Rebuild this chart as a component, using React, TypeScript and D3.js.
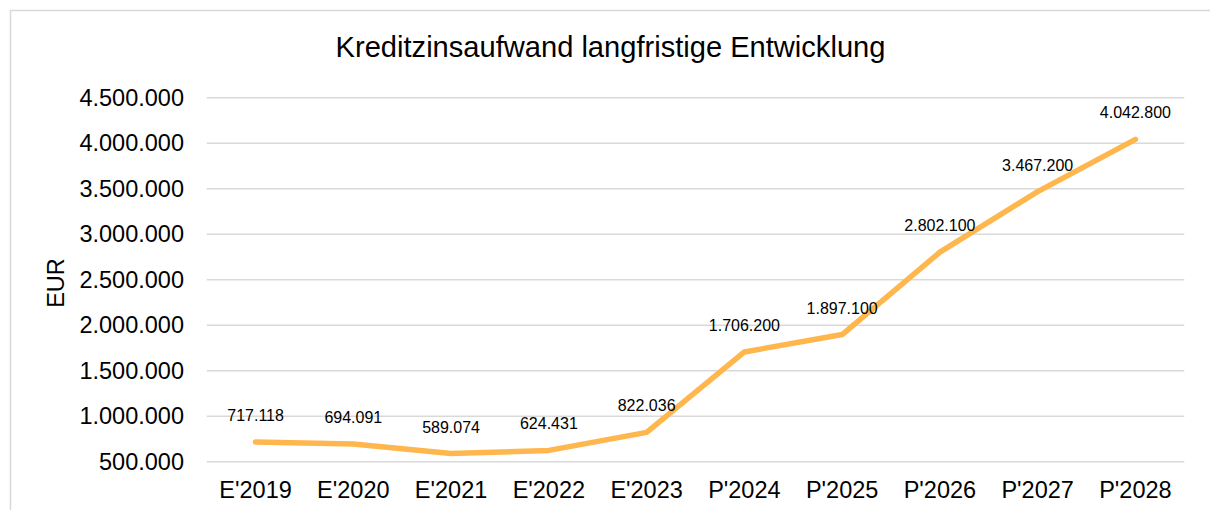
import React from "react";
import * as d3 from "d3";

const categories = ["E'2019", "E'2020", "E'2021", "E'2022", "E'2023", "P'2024", "P'2025", "P'2026", "P'2027", "P'2028"];
const values = [717118, 694091, 589074, 624431, 822036, 1706200, 1897100, 2802100, 3467200, 4042800];
const yTicks = [500000, 1000000, 1500000, 2000000, 2500000, 3000000, 3500000, 4000000, 4500000];
const title = "Kreditzinsaufwand langfristige Entwicklung";
const yAxisTitle = "EUR";

const W = 1210;
const H = 510;
const plot = { left: 206.7, right: 1184.3, top: 97.7, bottom: 461.7 };
const FONT = "'Liberation Sans', Arial, sans-serif";

const fmt = (v: number) => d3.format(",")(v).replace(/,/g, ".");

export default function App() {
  const x = d3.scaleBand<string>().domain(categories).range([plot.left, plot.right]);
  const y = d3.scaleLinear().domain([500000, 4500000]).range([plot.bottom, plot.top]);
  const cx = (c: string) => (x(c) ?? 0) + x.bandwidth() / 2;
  const line = d3
    .line<number>()
    .x((_, i) => cx(categories[i]))
    .y((d) => y(d));

  return (
    <svg
      width={W}
      height={H}
      style={{ position: "absolute", left: 0, top: 0, background: "#fff" }}
      fontFamily={FONT}
    >
      <rect x={10.5} y={10.5} width={W + 10} height={H + 10} fill="#fff" stroke="#d9d9d9" strokeWidth={1.5} />
      <text x={610.5} y={57.3} textAnchor="middle" fontSize={29.1} fill="#000">
        {title}
      </text>
      {yTicks.map((t) => (
        <g key={t}>
          <line x1={plot.left} x2={plot.right} y1={y(t)} y2={y(t)} stroke="#d9d9d9" strokeWidth={1.5} />
          <text x={184} y={y(t)} dy="0.35em" textAnchor="end" fontSize={23.5} fill="#000">
            {fmt(t)}
          </text>
        </g>
      ))}
      <text
        transform={`translate(${63.5},${283}) rotate(-90)`}
        textAnchor="middle"
        fontSize={23.5}
        fill="#000"
      >
        {yAxisTitle}
      </text>
      {categories.map((c) => (
        <text key={c} x={cx(c)} y={498} textAnchor="middle" fontSize={23.5} fill="#000">
          {c}
        </text>
      ))}
      <path
        d={line(values) ?? ""}
        fill="none"
        stroke="#FFB74D"
        strokeWidth={5.5}
        strokeLinecap="round"
        strokeLinejoin="round"
      />
      {values.map((v, i) => (
        <text key={i} x={cx(categories[i])} y={y(v) - 21} textAnchor="middle" fontSize={16} fill="#000">
          {fmt(v)}
        </text>
      ))}
    </svg>
  );
}
